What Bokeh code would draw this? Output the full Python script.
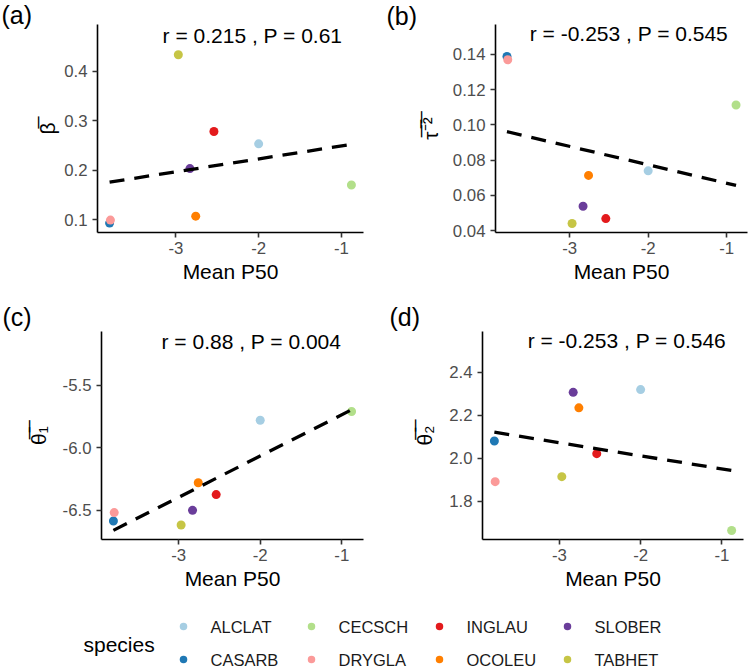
import numpy as np
from bokeh.plotting import figure
from bokeh.models import Range1d, FixedTicker, NumeralTickFormatter, Label
from bokeh.layouts import column, row
from bokeh.embed import file_html
from bokeh.resources import INLINE
from bokeh.core.properties import value

# Species-level means
species = ["ALCLAT", "CASARB", "CECSCH", "DRYGLA", "INGLAU", "OCOLEU", "SLOBER", "TABHET"]
species_colors = ["#A6CEE3", "#1F78B4", "#B2DF8A", "#FB9A99", "#E31A1C", "#FF7F00", "#6A3D9A", "#C6C545"]
mean_p50 = [-2.00, -3.80, -0.88, -3.79, -2.54, -2.76, -2.83, -2.97]
beta_mean = [0.253, 0.093, 0.170, 0.099, 0.278, 0.107, 0.203, 0.433]
tau_mean = [0.0739, 0.1389, 0.1113, 0.1370, 0.0468, 0.0713, 0.0538, 0.0440]
theta1_mean = [-5.78, -6.585, -5.71, -6.518, -6.374, -6.279, -6.50, -6.617]
theta2_mean = [2.320, 2.081, 1.665, 1.892, 2.022, 2.235, 2.307, 1.915]

# Correlation annotations
r_labels = ["r = 0.215 , P = 0.61", "r = -0.253 , P = 0.545",
            "r = 0.88 , P = 0.004", "r = -0.253 , P = 0.546"]
panel_tags = ["(a)", "(b)", "(c)", "(d)"]
y_titles = ["\u03b2\u0305", "\u03c4\u0305\u207b\u0305\u00b2\u0305",
            "\u03b8\u0305\u2081\u0305", "\u03b8\u0305\u2082\u0305"]
x_ticks = [-3, -2, -1]
y_ticks = [[0.1, 0.2, 0.3, 0.4],
           [0.04, 0.06, 0.08, 0.10, 0.12, 0.14],
           [-6.5, -6.0, -5.5],
           [1.8, 2.0, 2.2, 2.4]]
y_formats = ["0.0", "0.00", "0.0", "0.0"]
x_title = "Mean P50"

FONT = "Liberation Sans"
BASE = 21


def make_panel(yvals, ylim, yticks, yfmt, ytitle, tag, rlab, lab_xy, borders,
               tag_xy, ylab_standoff, tag_side):
    left, right, top, bottom = borders
    xpad = 0.05 * (max(mean_p50) - min(mean_p50))
    p = figure(width=376, height=300,
               x_range=Range1d(min(mean_p50) - xpad, max(mean_p50) + xpad),
               y_range=Range1d(*ylim),
               output_backend="svg", toolbar_location=None,
               min_border_left=left, min_border_right=right,
               min_border_top=top, min_border_bottom=bottom)
    p.grid.visible = False
    p.outline_line_color = None
    p.background_fill_color = "white"
    p.border_fill_color = "white"

    for ax in (p.xaxis[0], p.yaxis[0]):
        ax.axis_line_color = "black"
        ax.axis_line_width = 1.6
        ax.major_tick_line_color = "#333333"
        ax.major_tick_line_width = 1.6
        ax.major_tick_out = 5
        ax.major_tick_in = 0
        ax.minor_tick_line_color = None
        ax.major_label_text_font = FONT
        ax.major_label_text_font_size = "16.8px"
        ax.major_label_text_color = "#4D4D4D"
        ax.axis_label_text_font = FONT
        ax.axis_label_text_font_size = f"{BASE}px"
        ax.axis_label_text_font_style = "normal"
        ax.axis_label_text_color = "black"

    p.xaxis.ticker = FixedTicker(ticks=x_ticks)
    p.xaxis.formatter = NumeralTickFormatter(format="0")
    p.xaxis.axis_label = x_title
    p.xaxis.major_label_standoff = 4
    p.xaxis.axis_label_standoff = 3

    p.yaxis.ticker = FixedTicker(ticks=yticks)
    p.yaxis.formatter = NumeralTickFormatter(format=yfmt)
    p.yaxis.axis_label = ytitle
    p.yaxis.major_label_standoff = 5
    p.yaxis.axis_label_standoff = ylab_standoff

    p.scatter(mean_p50, yvals, size=9, color=species_colors, line_color=None)

    slope, icpt = np.polyfit(mean_p50, yvals, 1)
    xs = np.array([min(mean_p50), max(mean_p50)])
    p.line(xs, slope * xs + icpt, line_color="black", line_width=3.3, line_dash="15 10")

    p.add_layout(Label(x=lab_xy[0], y=lab_xy[1], text=rlab, text_font=FONT,
                       text_font_size=f"{BASE}px", text_color="black",
                       text_align="left", text_baseline="middle"))

    # panel tag lives in a margin panel so it is not clipped to the frame
    p.add_layout(Label(x=tag_xy[0], y=tag_xy[1],
                       x_units="canvas", y_units="canvas", text=tag,
                       text_font=FONT, text_font_size="25px", text_color="black",
                       text_align="left", text_baseline="middle"), tag_side)
    return p


pa = make_panel(beta_mean, (0.074, 0.494), y_ticks[0], y_formats[0], y_titles[0],
                panel_tags[0], r_labels[0], (-3.16, 0.472), (97, 13, 23, 67), (1, 14), 2, "left")
pb = make_panel(tau_mean, (0.0389, 0.157), y_ticks[1], y_formats[1], y_titles[1],
                panel_tags[1], r_labels[1], (-3.51, 0.152), (119, 5, 24, 68), (10, 15), 8, "left")
pc = make_panel(theta1_mean, (-6.733, -5.07), y_ticks[2], y_formats[2], y_titles[2],
                panel_tags[2], r_labels[2], (-3.21, -5.15), (101, 13, 30, 61), (2, 16), 10, "above")
pd = make_panel(theta2_mean, (1.623, 2.59), y_ticks[3], y_formats[3], y_titles[3],
                panel_tags[3], r_labels[3], (-3.39, 2.547), (106, 9, 31, 61), (13, 16), 10, "above")

# Legend strip: species filled column-wise in two rows
leg = figure(width=752, height=71, x_range=Range1d(0, 752), y_range=Range1d(671, 600),
             output_backend="svg", toolbar_location=None,
             x_axis_location=None, y_axis_location=None,
             min_border=0, min_border_left=0, min_border_right=0,
             min_border_top=0, min_border_bottom=0)
leg.grid.visible = False
leg.outline_line_color = None
leg.background_fill_color = "white"
leg.border_fill_color = "white"

idx = np.arange(len(species))
col_i = idx // 2
row_i = idx % 2
dot_x = 183 + 128 * col_i
dot_y = 626 + 33 * row_i
leg.scatter(dot_x, dot_y, size=7.5, color=species_colors, line_color=None)
leg.text(dot_x + 27, dot_y, text=species, text_font=value(FONT),
         text_font_size=value("16.5px"), text_color="#1A1A1A",
         text_baseline="middle", text_align="left")
leg.add_layout(Label(x=83, y=644, text="species", text_font=FONT,
                     text_font_size=f"{BASE}px", text_color="black",
                     text_align="left", text_baseline="middle"))

layout = column(row(pa, pb), row(pc, pd), leg)
open("out.html", "w").write(file_html(layout, INLINE))
